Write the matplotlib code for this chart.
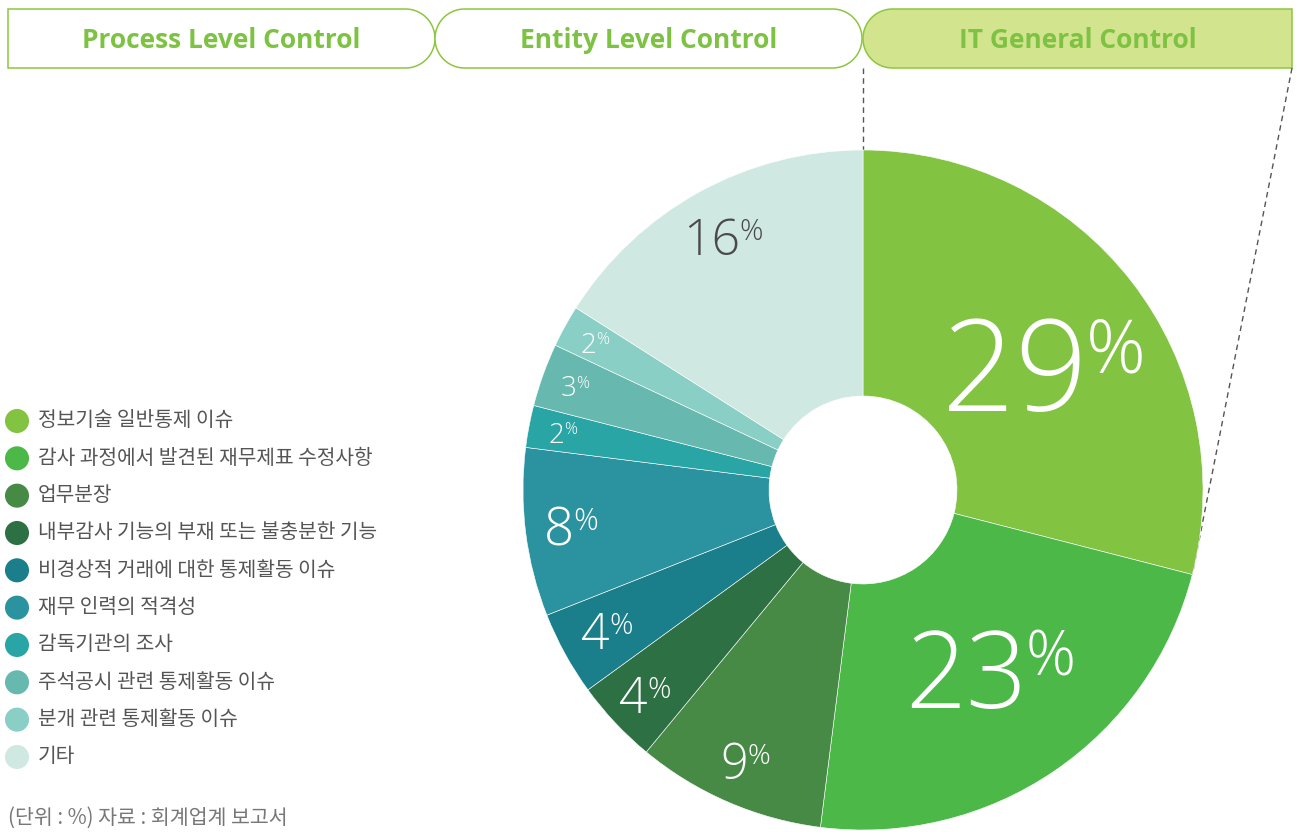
import numpy as np
import matplotlib
matplotlib.use("Agg")
import matplotlib.pyplot as plt
from matplotlib.patches import Polygon

plt.rcParams["font.family"] = ["Noto Sans CJK KR", "DejaVu Sans"]

# data
categories = [
    "정보기술 일반통제 이슈",
    "감사 과정에서 발견된 재무제표 수정사항",
    "업무분장",
    "내부감사 기능의 부재 또는 불충분한 기능",
    "비경상적 거래에 대한 통제활동 이슈",
    "재무 인력의 적격성",
    "감독기관의 조사",
    "주석공시 관련 통제활동 이슈",
    "분개 관련 통제활동 이슈",
    "기타",
]
shares = [29, 23, 9, 4, 4, 8, 2, 3, 2, 16]
sections = ["Process Level Control", "Entity Level Control", "IT General Control"]
note = "(단위 : %) 자료 : 회계업계 보고서"

# styles
colors = ["#82c341", "#4cb848", "#468a45", "#2c7043", "#1a7f8a",
          "#2b93a0", "#2aa5a5", "#67b8ae", "#89cfc6", "#cfe8e1"]
label_sizes = [92, 77, 35, 36, 36, 38, 20, 20, 20, 36]
label_radius = [0.65, 0.65, 0.87, 0.88, 0.86, 0.865, 0.9, 0.9, 0.9, 0.85]
label_turn = [-3.5, 1.5, 0, 0, 0, 0, 0, 0, 0, 0]  # degrees
label_colors = ["white"] * 9 + ["#4a4a4a"]
GREEN = "#7dc242"

W, H = 1300, 832
CX, CY, R = 863, 490, 340
HOLE = 94

fig = plt.figure(figsize=(W / 100, H / 100), dpi=100)
bg = fig.add_axes([0, 0, 1, 1])
bg.set_xlim(0, W)
bg.set_ylim(H, 0)
bg.axis("off")


def pill(x0, x1, y0, y1, left_round, right_round, n=40):
    r = (y1 - y0) / 2
    cy = (y0 + y1) / 2
    t = np.linspace(-np.pi / 2, np.pi / 2, n)
    pts = []
    if right_round:
        pts += list(zip(x1 - r + r * np.cos(t), cy + r * np.sin(t)))
    else:
        pts += [(x1, y0), (x1, y1)]
    if left_round:
        pts += list(zip(x0 + r - r * np.cos(t[::-1]), cy + r * np.sin(t[::-1])))
    else:
        pts += [(x0, y1), (x0, y0)]
    return np.array(pts)


# header boxes
boxes = [(8, 435, False, True, "white"),
         (435, 862, True, True, "white"),
         (863, 1292, True, False, "#d3e48f")]
for (x0, x1, lr, rr, fc), name in zip(boxes, sections):
    bg.add_patch(Polygon(pill(x0, x1, 9, 68, lr, rr), closed=True,
                         facecolor=fc, edgecolor="#8dc63f", lw=1.1))
    bg.text((x0 + x1) / 2, 40, name, ha="center", va="center",
            fontsize=19, fontweight="bold", color=GREEN, family="Open Sans")

# dashed guide lines toward the IT slice
ang = np.deg2rad(90 - 360 * shares[0] / sum(shares))
bg.plot([CX, CX], [68, CY - R], ls=(0, (4, 3)), color="#555555", lw=1)
bg.plot([1292, CX + R * np.cos(ang)], [68, CY - R * np.sin(ang)],
        ls=(0, (4, 3)), color="#555555", lw=1)

# legend
for i, (lab, c) in enumerate(zip(categories, colors)):
    y = 421 + i * 37.33
    bg.scatter([17], [y], s=300, color=c, edgecolors="none")
    bg.text(38, y, lab, ha="left", va="center", fontsize=14.6, color="#555555")
bg.text(8, 818, note, ha="left", va="center", fontsize=14.8, color="#777777")

# donut
ax = fig.add_axes([(CX - R) / W, (H - CY - R) / H, 2 * R / W, 2 * R / H])
wedges, _ = ax.pie(shares, colors=colors, startangle=90, counterclock=False,
                   wedgeprops=dict(width=1 - HOLE / R, edgecolor="white", lw=0.4))
ax.set_xlim(-1, 1)
ax.set_ylim(-1, 1)
ax.axis("off")

for w, v, fs, rf, dt, tc in zip(wedges, shares, label_sizes, label_radius,
                                label_turn, label_colors):
    mid = np.deg2rad((w.theta1 + w.theta2) / 2 + dt)
    pos = (rf * np.cos(mid), rf * np.sin(mid))
    num = str(v)
    cap = 0.714 * fs
    pfs = fs * 0.58
    nw = len(num) * 0.54 * fs
    gap = -0.01 * fs
    pw = 0.75 * pfs
    jx = -(nw + gap + pw) / 2 + nw
    ax.annotate(num, xy=pos, xytext=(jx, -cap / 2), textcoords="offset points",
                ha="right", va="baseline", fontsize=fs, color=tc,
                family="Open Sans", fontweight="light")
    ax.annotate("%", xy=pos, xytext=(jx + gap, cap / 2 - 0.714 * pfs),
                textcoords="offset points", ha="left", va="baseline",
                fontsize=pfs, color=tc, family="Open Sans", fontweight="light")

fig.savefig("out.png", dpi=100)
